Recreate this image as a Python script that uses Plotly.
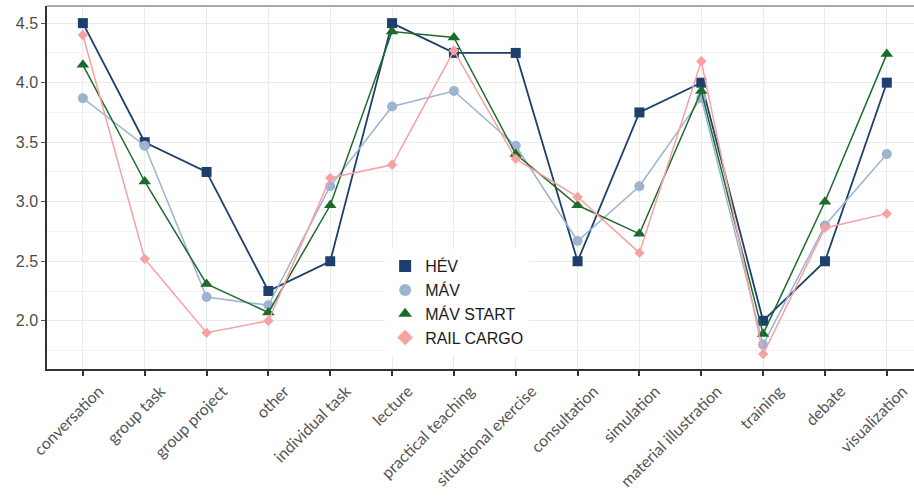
import plotly.graph_objects as go

categories = ["conversation", "group task", "group project", "other", "individual task",
              "lecture", "practical teaching", "situational exercise", "consultation",
              "simulation", "material illustration", "training", "debate", "visualization"]

hev = [4.5, 3.5, 3.25, 2.25, 2.5, 4.5, 4.25, 4.25, 2.5, 3.75, 4.0, 2.0, 2.5, 4.0]
mav = [3.87, 3.47, 2.2, 2.13, 3.13, 3.8, 3.93, 3.47, 2.67, 3.13, 3.87, 1.8, 2.8, 3.4]
mav_start = [4.15, 3.17, 2.31, 2.07, 2.97, 4.43, 4.38, 3.4, 2.97, 2.73, 3.93, 1.89, 3.0, 4.24]
rail_cargo = [4.4, 2.52, 1.9, 2.0, 3.2, 3.31, 4.27, 3.36, 3.04, 2.57, 4.18, 1.72, 2.78, 2.9]

y_ticks = [2.0, 2.5, 3.0, 3.5, 4.0, 4.5]

series = [
    ("HÉV", hev, "#1d3f6e", "square", 10, 1.8),
    ("MÁV", mav, "#9cb4cf", "circle", 10, 1.5),
    ("MÁV START", mav_start, "#1c6b2b", "triangle-up", 11, 1.5),
    ("RAIL CARGO", rail_cargo, "#f7a1a3", "diamond", 8, 1.5),
]

x_idx = list(range(len(categories)))

fig = go.Figure()
for name, vals, color, symbol, size, lw in series:
    fig.add_trace(go.Scatter(
        x=x_idx, y=vals, name=name, mode="lines+markers",
        line=dict(color=color, width=lw),
        marker=dict(symbol=symbol, size=size, color=color),
        showlegend=False,
    ))
# legend keys show the point symbol only
for name, vals, color, symbol, size, lw in series:
    fig.add_trace(go.Scatter(
        x=[None], y=[None], name=name, mode="markers",
        marker=dict(symbol=symbol, size=size, color=color),
        showlegend=True,
    ))

fig.update_layout(
    width=914, height=501,
    margin=dict(l=47, r=0, t=6, b=132),
    paper_bgcolor="white", plot_bgcolor="white",
    font=dict(family="Arial, Liberation Sans, sans-serif", color="#4d4d4d"),
    legend=dict(
        x=0.39, y=0.33, xanchor="left", yanchor="top",
        bgcolor="white", borderwidth=0,
        font=dict(family="Liberation Sans, Arial, sans-serif", size=16, color="#1a1a1a"),
        tracegroupgap=0, itemsizing="constant", itemwidth=30,
    ),
    showlegend=True,
)

fig.update_xaxes(
    range=[-0.58, 13.44],
    automargin=False,
    tickmode="array", tickvals=x_idx, ticktext=categories,
    tickangle=-45,
    tickfont=dict(family="Lato, Open Sans, sans-serif", size=16, color="#555555"),
    ticklabelshift=16, ticklabeloverflow="allow",
    ticks="outside", ticklen=5, tickcolor="#333333", tickwidth=1.5,
    showgrid=True, gridcolor="#ebebeb", gridwidth=1,
    showline=True, linecolor="#333333", linewidth=1.5,
    zeroline=False,
)
fig.update_yaxes(
    range=[1.595, 4.644],
    automargin=False,
    tickmode="array", tickvals=y_ticks, ticktext=[f"{v:.1f}" for v in y_ticks],
    tickfont=dict(size=16, color="#4d4d4d"),
    ticks="outside", ticklen=4, tickcolor="#555555", tickwidth=1,
    showgrid=True, gridcolor="#ebebeb", gridwidth=1.2,
    minor=dict(tickmode="array", tickvals=[1.75, 2.25, 2.75, 3.25, 3.75, 4.25],
               showgrid=True, gridcolor="#f3f3f3", gridwidth=1, ticks=""),
    showline=True, linecolor="#333333", linewidth=1.5,
    zeroline=False,
)

# top edge of the panel
fig.add_shape(type="line", xref="paper", yref="paper", x0=0, x1=1, y0=1, y1=1,
              line=dict(color="#8c8c8c", width=1.5))

fig.write_html("out.html")
